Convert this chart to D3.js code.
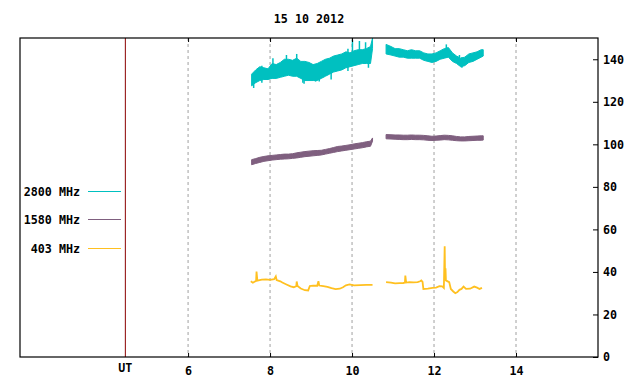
<!doctype html>
<html>
  <head>
    <script src="https://cdnjs.cloudflare.com/ajax/libs/d3/7.8.5/d3.min.js"></script>
    <style>
      body { margin: 0; background: #fff; }
      text { font-family: "DejaVu Sans Mono", monospace; font-weight: bold; font-size: 11.7px; fill: #000; }
    </style>
  </head>
  <body>
    <svg></svg>
    <script>
      var width = 640, height = 384;
      var title = "15 10 2012";
      var xTicks = [6, 8, 10, 12, 14];
      var yTicks = [0, 20, 40, 60, 80, 100, 120, 140];
      var utHour = 4.47;
      var legendNames = ["2800 MHz", "1580 MHz", "403 MHz"];
      var colors = ["#00c0c0", "#7f5f7f", "#ffc020"];

      // 2800 MHz (band low/high)
      var t2800a = [7.55,7.65,7.75,7.85,7.95,8.05,8.15,8.25,8.35,8.45,8.55,8.65,8.75,8.85,8.95,9.05,9.15,9.25,9.35,9.45,9.55,9.65,9.75,9.85,9.95,10.05,10.15,10.25,10.35,10.45,10.5];
      var hi2800a = [133,135,136.5,136,135.5,138,137.5,138.5,140,140,139.5,140.5,139,139,138.5,137.5,138,139,140,140.5,141.5,142,142.5,143.5,143,144,144.5,144.5,145,146,150];
      var lo2800a = [127.5,129,130,130.5,130.5,131,131,131.5,132,132.5,132,132,131,130,130,130,130,131,132,133,134,134.5,135,136,136.5,137,137.5,138,138,138,145];
      var t2800b = [10.83,10.95,11.05,11.15,11.25,11.35,11.45,11.55,11.65,11.75,11.85,11.95,12.05,12.15,12.25,12.35,12.45,12.55,12.65,12.75,12.85,12.95,13.05,13.15,13.2];
      var hi2800b = [147,146,145,145,144.5,144,144.5,144,144,143,142.5,142.5,143,144,145,145.5,143,141.5,140.5,141,142.5,143,143.5,144.5,144.5];
      var lo2800b = [142.5,142,141.5,141,141,140.5,140.5,140.5,140.5,139.5,139,138.5,139,140,140.5,141,139,138,136.5,137,138.5,139,140,141,141.5];
      // noise spikes: [hour, low, high]
      var spikes2800 = [[7.6,126.5,133],[7.8,129,137],[8.07,132,140.5],[8.4,133,142],[8.65,134,142.5],[8.8,129,137],
        [8.83,128.5,136],[9.11,129.5,137],[9.2,129.5,135],[9.49,130.5,139],[9.9,134.5,145],[10.01,138,149],
        [10.18,139,148.6],[10.33,139,148],[10.4,136,144],[12.3,141,147],[12.62,137.7,142],[12.68,136,141]];

      // 1580 MHz (band low/high)
      var t1580a = [7.55,7.65,7.75,7.85,7.95,8.05,8.15,8.25,8.35,8.45,8.55,8.65,8.75,8.85,8.95,9.05,9.15,9.25,9.35,9.45,9.55,9.65,9.75,9.85,9.95,10.05,10.15,10.25,10.35,10.45,10.5];
      var hi1580a = [92.8,93.3,93.9,94.3,94.6,94.8,95.0,95.2,95.4,95.4,95.6,96.0,96.3,96.6,96.8,97.0,97.1,97.2,97.6,98.0,98.5,99.0,99.2,99.5,99.8,100.2,100.5,100.8,101.2,101.5,103];
      var lo1580a = [90.4,91.0,91.5,92.0,92.3,92.6,92.8,93.0,93.1,93.2,93.4,93.6,93.9,94.2,94.4,94.6,94.8,95.0,95.4,95.8,96.2,96.6,96.9,97.2,97.5,97.8,98.1,98.4,98.8,99.1,101.5];
      var t1580b = t2800b;
      var hi1580b = [104.6,104.5,104.4,104.4,104.3,104.3,104.4,104.3,104.3,104.2,104.0,103.8,103.9,104.1,104.3,104.2,104.0,103.7,103.5,103.5,103.7,103.8,103.9,104.0,104.0];
      var lo1580b = [102.6,102.5,102.4,102.3,102.2,102.2,102.3,102.2,102.2,102.1,101.9,101.8,101.9,102.0,102.2,102.1,101.9,101.7,101.6,101.6,101.7,101.8,101.9,101.9,102.0];

      // 403 MHz (line)
      var t403a = [7.53,7.58,7.62,7.66,7.67,7.69,7.8,7.9,8.0,8.1,8.14,8.16,8.25,8.3,8.4,8.5,8.58,8.64,8.65,8.67,8.75,8.85,8.93,8.97,9.05,9.15,9.18,9.2,9.3,9.4,9.5,9.6,9.7,9.78,9.85,9.94,10.05,10.2,10.35,10.5];
      var v403a = [35.6,34.9,35.4,35.8,40.2,35.9,36.4,36.5,36.3,36.6,37.9,36.2,35.6,35.0,34.1,33.2,32.8,33.3,35.5,33.4,32.2,31.4,31.3,33.4,33.6,33.5,35.6,33.6,33.3,33.0,32.4,31.9,32.1,32.8,33.7,34.1,33.7,33.8,33.9,33.9];
      var t403b = [10.83,10.95,11.05,11.16,11.25,11.29,11.30,11.32,11.40,11.5,11.6,11.66,11.69,11.72,11.74,11.85,11.96,12.05,12.13,12.2,12.24,12.26,12.27,12.28,12.29,12.31,12.37,12.41,12.47,12.52,12.57,12.62,12.67,12.72,12.78,12.88,12.98,13.05,13.11,13.17];
      var v403b = [35.2,35.0,34.6,34.7,34.8,35.0,38.3,35.0,35.2,35.1,35.2,35.6,36.0,35.3,32.0,32.2,32.5,32.6,33.3,33.2,32.5,52.1,36.0,41.7,36.0,35.8,35.2,32.0,30.8,30.0,30.5,31.6,32.0,33.1,32.0,32.1,33.1,32.6,32.0,32.5];

      var svg = d3.select("svg").attr("width", width).attr("height", height);
      var x = d3.scaleLinear().domain([1.9, 16]).range([20, 598]);
      var y = d3.scaleLinear().domain([0, 150]).range([357, 38]);

      // grid
      svg.selectAll(".grid").data(xTicks).enter().append("line")
        .attr("x1", d => x(d)).attr("x2", d => x(d))
        .attr("y1", y(150)).attr("y2", y(0))
        .style("stroke", "#a0a0a0").style("stroke-dasharray", "3,3");

      function band(ts, lo, hi, color) {
        var rows = ts.map((t, i) => ({t: t, lo: lo[i], hi: hi[i]}));
        var area = d3.area()
          .x(d => x(d.t)).y0(d => y(d.lo)).y1(d => y(d.hi));
        svg.append("path").datum(rows).attr("d", area)
          .style("fill", color).style("stroke", color).style("stroke-width", 1);
      }
      band(t2800a, lo2800a, hi2800a, colors[0]);
      band(t2800b, lo2800b, hi2800b, colors[0]);
      svg.selectAll(".spike").data(spikes2800).enter().append("line")
        .attr("x1", d => x(d[0])).attr("x2", d => x(d[0]))
        .attr("y1", d => y(d[1])).attr("y2", d => y(Math.min(d[2], 150)))
        .style("stroke", colors[0]).style("stroke-width", 1.5);
      band(t1580a, lo1580a, hi1580a, colors[1]);
      band(t1580b, lo1580b, hi1580b, colors[1]);

      var line = d3.line().x(d => x(d[0])).y(d => y(d[1]));
      [[t403a, v403a], [t403b, v403b]].forEach(function(s) {
        svg.append("path").datum(s[0].map((t, i) => [t, s[1][i]])).attr("d", line)
          .style("fill", "none").style("stroke", colors[2]).style("stroke-width", 1.8);
      });

      // UT line
      svg.append("line").attr("x1", x(utHour)).attr("x2", x(utHour))
        .attr("y1", y(150)).attr("y2", y(0))
        .style("stroke", "#8b0000").style("stroke-width", 1);

      // frame
      svg.append("rect").attr("x", 20).attr("y", y(150))
        .attr("width", 578).attr("height", y(0) - y(150))
        .style("fill", "none").style("stroke", "#000").style("stroke-width", 1.2);

      var xb = svg.append("g").attr("transform", "translate(0," + y(0) + ")")
        .call(d3.axisBottom(x).tickValues(xTicks).tickSize(-4).tickPadding(9.5));
      var xt = svg.append("g").attr("transform", "translate(0," + y(150) + ")")
        .call(d3.axisTop(x).tickValues(xTicks).tickSize(-4).tickFormat(""));
      var yr = svg.append("g").attr("transform", "translate(598,0)")
        .call(d3.axisRight(y).tickValues(yTicks).tickSize(-5).tickPadding(5));
      [xb, xt, yr].forEach(function(g) {
        g.select(".domain").remove();
        g.attr("font-family", null).attr("font-size", null);
        g.selectAll("text").attr("fill", "#000");
      });

      svg.append("text").attr("x", x(utHour)).attr("y", 372)
        .attr("text-anchor", "middle").text("UT");

      svg.append("text").attr("x", 309).attr("y", 23)
        .attr("text-anchor", "middle").text(title);

      // legend
      var ly = [191.5, 219.5, 248.5];
      legendNames.forEach(function(n, i) {
        svg.append("text").attr("x", 80).attr("y", ly[i] + 4.5)
          .attr("text-anchor", "end").text(n);
        svg.append("line").attr("x1", 88).attr("x2", 121)
          .attr("y1", ly[i]).attr("y2", ly[i])
          .style("stroke", colors[i]).style("stroke-width", 1);
      });
    </script>
  </body>
</html>
